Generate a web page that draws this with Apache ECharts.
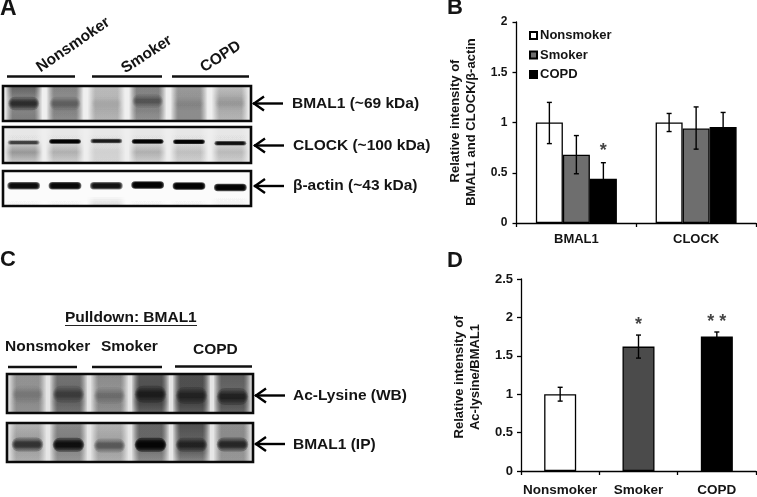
<!DOCTYPE html>
<html>
<head>
<meta charset="utf-8">
<style>
  html, body { margin: 0; padding: 0; background: #fff; }
  #chart { width: 757px; height: 497px; }
</style>
</head>
<body>
<div id="chart"></div>
<script src="https://cdn.jsdelivr.net/npm/echarts@6/dist/echarts.min.js"></script>
<script>
// panel B
const targets = ['BMAL1', 'CLOCK'];
const groups = ['Nonsmoker', 'Smoker', 'COPD'];
const nonsmokerB = [1, 1];
const smokerB = [0.68, 0.94];
const copdB = [0.44, 0.955];
const nonsmokerErrB = [[0.79, 1.2], [0.91, 1.09]];
const smokerErrB = [[0.49, 0.87], [0.735, 1.155]];
const copdErrB = [[0.28, 0.6], [0.81, 1.1]];

// panel D
const valuesD = [1, 1.62, 1.75];
const errD = [[0.91, 1.09], [1.47, 1.77], [1.69, 1.81]];

// blots: lane darkness at four heights (top to bottom), then band position and darkness
const lanes = ['N1', 'N2', 'S1', 'S2', 'C1', 'C2'];
const bmalSmear = [[.6, .45, .45, .48], [.45, .42, .45, .42], [.22, .25, .28, .25], [.45, .45, .45, .38], [.36, .38, .42, .42], [.2, .3, .28, .25]];
const bmalBandY = [.5, .5, .5, .43, .5, .5];
const bmalBand = [.65, .3, .05, .35, .06, .08];
const clockSmear = [[.02, .05, .36, .15], [.02, .05, .26, .12], [.02, .04, .14, .1], [.02, .05, .26, .12], [.02, .05, .2, .12], [.02, .05, .22, .12]];
const clockBandY = [.43, .4, .39, .4, .41, .45];
const clockBand = [.7, 1, .88, 1, 1, .92];
const actinSmear = [[0, 0, 0, .02], [0, 0, 0, .03], [0, 0, 0, .14], [0, 0, 0, .02], [0, 0, 0, .03], [0, 0, 0, .05]];
const actinBandY = [.42, .42, .42, .4, .43, .47];
const actinBand = [.95, .97, .92, 1, 1, .98];
const acLysSmear = [[.36, .36, .4, .36], [.5, .52, .58, .5], [.4, .36, .42, .36], [.62, .66, .72, .56], [.66, .66, .72, .6], [.6, .56, .66, .56]];
const acLysBandY = [.52, .52, .55, .52, .55, .58];
const acLysBand = [.15, .4, .2, .6, .5, .6];
const ipSmear = [[.22, .3, .3, .25], [.4, .45, .42, .34], [.22, .28, .3, .25], [.55, .55, .5, .38], [.66, .6, .6, .4], [.38, .4, .36, .34]];
const ipBandY = [.55, .56, .58, .56, .56, .55];
const ipBand = [.68, .88, .45, .95, .62, .72];

const font = 'Liberation Sans, Arial, sans-serif';
const ink = '#141414';

const blots = [
  { box: [3, 86, 248, 35], bg: '#efefef', smear: bmalSmear, bandY: bmalBandY, band: bmalBand, w: 0.72, h: 4, spread: [3.4, 2.4, 1.6, 1] },
  { box: [3, 127, 248, 36], bg: '#eeeeee', smear: clockSmear, bandY: clockBandY, band: clockBand, w: 0.74, h: 3, spread: [1.5, 1.2, 1, 0.8] },
  { box: [3, 171, 248, 35], bg: '#fbfbfb', smear: actinSmear, bandY: actinBandY, band: actinBand, w: 0.76, h: 5, spread: [1.5, 1.25, 1, 0.8] },
  { box: [7, 374, 246, 39], bg: '#e4e4e4', smear: acLysSmear, bandY: acLysBandY, band: acLysBand, w: 0.74, h: 5, spread: [3.4, 2.4, 1.6, 1] },
  { box: [7, 423, 246, 39], bg: '#e6e6e6', smear: ipSmear, bandY: ipBandY, band: ipBand, w: 0.74, h: 5, spread: [2.8, 2, 1.4, 0.9] }
];

const blotStops = [0, 0.35, 0.7, 1];
const layerAlpha = (d, n) => (1 - Math.pow(1 - Math.min(d, 0.99), 1 / n)).toFixed(3);

const renderLane = (blot) => (params, api) => {
  const i = api.value(0);
  const x = api.coord([i, 0])[0];
  const laneW = api.size([1, 0])[0];
  const top = api.coord([i, 0])[1];
  const bottom = api.coord([i, 1])[1];
  const children = [];
  // nested rects give the lane a soft edge
  const layers = [1.22, 1.14, 1.07, 1, 0.93, 0.86, 0.78];
  layers.forEach((k) => {
    const w = laneW * blot.w * k;
    children.push({
      type: 'rect',
      shape: { x: x - w / 2, y: top, width: w, height: bottom - top },
      style: {
        fill: new echarts.graphic.LinearGradient(0, 0, 0, 1, blot.smear[i].map((d, s) => ({
          offset: blotStops[s],
          color: 'rgba(0,0,0,' + layerAlpha(d, layers.length) + ')'
        })))
      }
    });
  });
  const by = api.coord([i, blot.bandY[i]])[1];
  const a = layerAlpha(blot.band[i], blot.spread.length);
  blot.spread.forEach((k, n) => {
    const bw = laneW * blot.w * (1.04 - n * 0.06);
    const bh = blot.h * k;
    children.push({
      type: 'rect',
      shape: { x: x - bw / 2, y: by - bh / 2, width: bw, height: bh, r: bh / 2 },
      style: { fill: 'rgba(0,0,0,' + a + ')' }
    });
  });
  return { type: 'group', children };
};

const renderErr = (offset) => (params, api) => {
  const lo = api.coord([api.value(0), api.value(1)]);
  const hi = api.coord([api.value(0), api.value(2)]);
  const x = lo[0] + offset;
  const cap = 2.5;
  const st = { stroke: '#000', lineWidth: 1.4 };
  return {
    type: 'group',
    children: [
      { type: 'line', shape: { x1: x, y1: lo[1], x2: x, y2: hi[1] }, style: st },
      { type: 'line', shape: { x1: x - cap, y1: lo[1], x2: x + cap, y2: lo[1] }, style: st },
      { type: 'line', shape: { x1: x - cap, y1: hi[1], x2: x + cap, y2: hi[1] }, style: st }
    ]
  };
};

const valueAxis = (gridIndex, max, fontSize, margin) => ({
  type: 'value', gridIndex, min: 0, max, interval: 0.5,
  axisLine: { show: true, lineStyle: { color: '#000', width: 1.3 } },
  axisTick: { show: true, length: 4, lineStyle: { color: '#000', width: 1.3 } },
  axisLabel: { color: ink, fontFamily: font, fontWeight: 'bold', fontSize, margin, formatter: (v) => String(v) },
  splitLine: { show: false }
});
const catAxis = (gridIndex, data, fontSize, margin) => ({
  type: 'category', gridIndex, data,
  axisLine: { show: true, lineStyle: { color: '#000', width: 1.3 } },
  axisTick: { show: true, length: 4, alignWithLabel: false, lineStyle: { color: '#000', width: 1.3 } },
  axisLabel: { color: ink, fontFamily: font, fontWeight: 'bold', fontSize, margin, interval: 0, hideOverlap: false },
  splitLine: { show: false }
});

const barStyle = (color) => ({ color, borderColor: '#000', borderWidth: 1.3 });
const greys = ['#ffffff', '#6e6e6e', '#000000'];
const seriesB = [nonsmokerB, smokerB, copdB].map((data, i) => ({
  name: groups[i], type: 'bar', xAxisIndex: 0, yAxisIndex: 0, data,
  barWidth: 27, barGap: 0, itemStyle: barStyle(greys[i])
}));
const errB = [nonsmokerErrB, smokerErrB, copdErrB].map((rows, i) => ({
  type: 'custom', xAxisIndex: 0, yAxisIndex: 0, z: 5,
  data: rows.map((r, c) => [c, r[0], r[1]]),
  renderItem: renderErr((i - 1) * 27)
}));

const txt = (text, x, y, fontSize, extra) => ({
  type: 'text', z: 100, x, y,
  style: Object.assign({ text, fontFamily: font, fontWeight: 'bold', fontSize, fill: ink, textVerticalAlign: 'middle' }, extra || {})
});
const vtxt = (text, x, y) => Object.assign(txt(text, x, y, 13, { textAlign: 'center' }), { rotation: Math.PI / 2 });
const seg = (x1, x2, y) => ({
  type: 'line', z: 100, shape: { x1, y1: y, x2, y2: y }, style: { stroke: '#111', lineWidth: 2.6 }
});
const arrow = (x, y, len) => ({
  type: 'group', z: 100,
  children: [
    { type: 'line', z: 100, shape: { x1: x + 1, y1: y, x2: x + len, y2: y }, style: { stroke: '#000', lineWidth: 2.4 } },
    { type: 'polyline', z: 100, shape: { points: [[x + 12, y - 7], [x + 2, y], [x + 12, y + 7]] }, style: { stroke: '#000', lineWidth: 2.4, fill: 'none' } }
  ]
});
const frame = (b) => ({
  type: 'rect', z: 100, shape: { x: b[0], y: b[1], width: b[2], height: b[3] },
  style: { fill: 'none', stroke: '#0a0a0a', lineWidth: 2.6 }
});

const graphic = [
  txt('A', 0, 9, 23), txt('B', 447, 8, 22), txt('C', 0, 260, 22), txt('D', 447, 261, 22),
  Object.assign(txt('Nonsmoker', 38, 69, 15.5), { rotation: 0.6 }),
  Object.assign(txt('Smoker', 123, 70, 15.5), { rotation: 0.58 }),
  Object.assign(txt('COPD', 202, 69, 15.5), { rotation: 0.58 }),
  seg(7, 75, 76.5), seg(92, 162, 76.5), seg(172, 249, 76.5),
  txt('BMAL1 (~69 kDa)', 292, 103.5, 15.5),
  txt('CLOCK (~100 kDa)', 293, 145.5, 15.5),
  txt('\u03b2-actin (~43 kDa)', 293, 186, 15.5),
  arrow(252, 103.5, 31), arrow(253, 145.5, 31), arrow(253, 186, 31),
  txt('Pulldown: BMAL1', 65, 318, 15.5),
  { type: 'line', z: 100, shape: { x1: 65, y1: 325.5, x2: 197, y2: 325.5 }, style: { stroke: '#222', lineWidth: 1.2 } },
  txt('Nonsmoker', 5, 347, 15.5), txt('Smoker', 101, 347, 15.5), txt('COPD', 193, 350, 15.5),
  seg(8, 77, 367), seg(92, 162, 367), seg(175, 252, 366.5),
  txt('Ac-Lysine (WB)', 293, 396, 15.5), txt('BMAL1 (IP)', 293, 444.5, 15.5),
  arrow(254, 395.5, 31), arrow(254, 444, 31),
  vtxt('Relative intensity of', 455, 121), vtxt('BMAL1 and CLOCK/\u03b2-actin', 471, 122),
  vtxt('Relative intensity of', 459, 377), vtxt('Ac-lysine/BMAL1', 475, 377)
];
blots.forEach((b) => graphic.push(frame(b.box)));

const blotGrids = blots.map((b) => ({
  left: b.box[0], top: b.box[1], width: b.box[2], height: b.box[3],
  show: true, backgroundColor: b.bg, borderWidth: 0
}));
const blotX = blots.map((b, i) => ({ type: 'category', gridIndex: i + 2, data: lanes, show: false }));
const blotY = blots.map((b, i) => ({ type: 'value', gridIndex: i + 2, min: 0, max: 1, inverse: true, show: false }));
const blotSeries = blots.map((b, i) => ({
  type: 'custom', xAxisIndex: i + 2, yAxisIndex: i + 2, silent: true,
  data: lanes.map((l, k) => [k]),
  encode: { x: 0 },
  renderItem: renderLane(b)
}));

const option = {
  backgroundColor: '#fff',
  animation: false,
  graphic,
  legend: {
    data: groups, orient: 'vertical', left: 524, top: 24, icon: 'rect',
    itemWidth: 7, itemHeight: 7, itemGap: 6.5,
    textStyle: { color: ink, fontFamily: font, fontWeight: 'bold', fontSize: 13, padding: [0, 0, 0, -2] },
    selectedMode: false
  },
  grid: [
    { left: 516.5, top: 22, width: 239.5, height: 201 },
    { left: 521, top: 279, width: 235, height: 197 }
  ].concat(blotGrids),
  xAxis: [catAxis(0, targets, 13, 10), catAxis(1, groups, 13.5, 12)].concat(blotX),
  yAxis: [valueAxis(0, 2, 12, 9), valueAxis(1, 2.5, 13, 8)].concat(blotY),
  series: [
    ...seriesB,
    ...errB,
    {
      type: 'scatter', xAxisIndex: 0, yAxisIndex: 0, symbolSize: 0, z: 6,
      data: [['BMAL1', 0.63]],
      label: { show: true, formatter: '*', position: 'top', offset: [27, 5], color: ink, fontFamily: font, fontWeight: 'bold', fontSize: 18 }
    },
    {
      type: 'bar', xAxisIndex: 1, yAxisIndex: 1, barWidth: 32,
      data: valuesD.map((v, i) => ({ value: v, itemStyle: barStyle(['#ffffff', '#4b4b4b', '#000000'][i]) }))
    },
    {
      type: 'custom', xAxisIndex: 1, yAxisIndex: 1, z: 5,
      data: errD.map((r, c) => [c, r[0], r[1]]),
      renderItem: renderErr(0)
    },
    {
      type: 'scatter', xAxisIndex: 1, yAxisIndex: 1, symbolSize: 0, z: 6,
      data: [
        { value: ['Smoker', 1.82], label: { formatter: '*' } },
        { value: ['COPD', 1.86], label: { formatter: '* *' } }
      ],
      label: { show: true, position: 'top', offset: [0, 8], color: ink, fontFamily: font, fontWeight: 'bold', fontSize: 18 }
    },
    ...blotSeries
  ]
};

const chart = echarts.init(document.getElementById('chart'), null, { renderer: 'canvas' });
chart.setOption(option);
</script>
</body>
</html>
